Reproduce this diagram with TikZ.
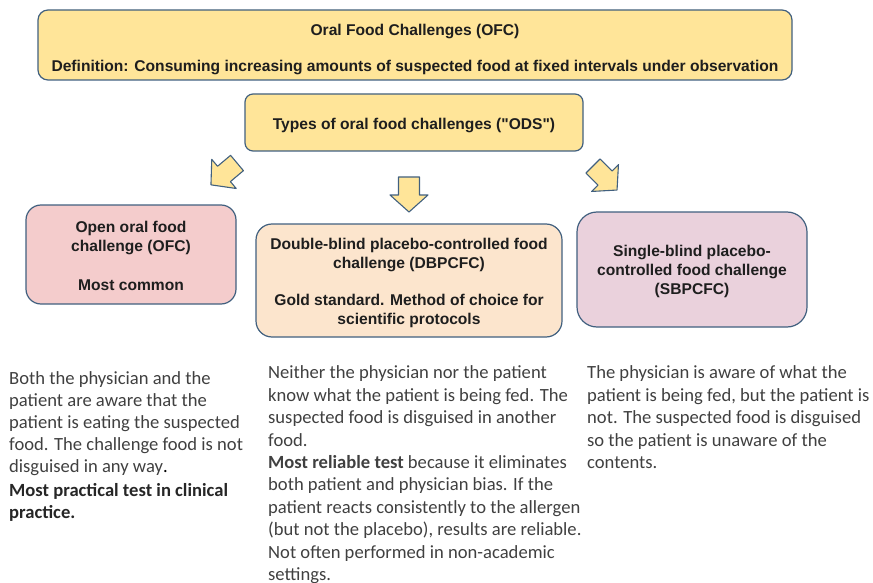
\documentclass[tikz,border=0pt]{standalone}
\usepackage{fontspec}
\setmainfont{Carlito}
\newfontfamily\boxfont{Liberation Sans}
\definecolor{edgeblue}{HTML}{41607F}
\definecolor{ofcyellow}{HTML}{FFE599}
\definecolor{openpink}{HTML}{F4CCCC}
\definecolor{dbpeach}{HTML}{FCE5CD}
\definecolor{sbmauve}{HTML}{EAD1DC}
\definecolor{bodygray}{HTML}{404040}
\definecolor{boxtext}{HTML}{1E1E1E}

\tikzset{
  card/.style={draw=edgeblue, line width=1.2pt, inner sep=0pt},
  cardtext/.style={align=center, inner sep=0pt, text=boxtext,
    font=\boxfont\bfseries\fontsize{15.6}{19}\selectfont},
  % anchored at the baseline of the last line of each note
  notes/.style={anchor=base west, align=left, inner sep=0pt, text=bodygray,
    font=\fontsize{18.6}{22.4}\selectfont},
  blockarrow/.style={draw=edgeblue, fill=ofcyellow, line width=1.1pt, line join=round},
}

\begin{document}
\begin{tikzpicture}[x=1pt, y=-1pt]
\useasboundingbox (0,0) rectangle (873,583);

% header boxes
\node[card, fill=ofcyellow, rounded corners=10pt, minimum width=754pt, minimum height=70pt]
  (ofc) at (415,45) {};
\node[cardtext] (ofc-text) at (415,50)
  {Oral Food Challenges (OFC)\\[17pt]
   Definition: Consuming increasing amounts of suspected food at fixed intervals under observation};
\node[card, fill=ofcyellow, rounded corners=8pt, minimum width=338pt, minimum height=57pt]
  (types) at (414,122.5) {};
\node[cardtext] (types-text) at (414,126) {Types of oral food challenges ("ODS")};

% block arrows towards the three challenge types
\begin{scope}[shift={(237,163)}, rotate=-140]
  \draw[blockarrow] (0,-10) -- (17,-10) -- (17,-19) -- (34,0) -- (17,19) -- (17,10) -- (0,10) -- cycle;
\end{scope}
\begin{scope}[shift={(409,177)}, rotate=-90]
  \draw[blockarrow] (0,-10.5) -- (18,-10.5) -- (18,-19) -- (35,0) -- (18,19) -- (18,10.5) -- (0,10.5) -- cycle;
\end{scope}
\begin{scope}[shift={(593,166)}, rotate=-45]
  \draw[blockarrow] (0,-10) -- (17,-10) -- (17,-19) -- (34,0) -- (17,19) -- (17,10) -- (0,10) -- cycle;
\end{scope}

% the three kinds of challenge
\node[card, fill=openpink, rounded corners=15pt, minimum width=210pt, minimum height=99pt]
  (open) at (131,254.5) {};
\node[cardtext] (open-text) at (131,256)
  {Open oral food\\challenge (OFC)\\[20pt]Most common};
\node[card, fill=dbpeach, rounded corners=16pt, minimum width=306pt, minimum height=113pt]
  (dbpc) at (409,280.5) {};
\node[cardtext] (dbpc-text) at (409,283)
  {Double-blind placebo-controlled food\\challenge (DBPCFC)\\[18pt]
   Gold standard. Method of choice for\\scientific protocols};
\node[card, fill=sbmauve, rounded corners=20pt, minimum width=230pt, minimum height=115pt]
  (sbpc) at (692,269.5) {};
\node[cardtext] (sbpc-text) at (692,271.5)
  {Single-blind placebo-\\controlled food challenge\\(SBPCFC)};

% explanations below each box
\node[notes, font=\fontsize{18.6}{22}\selectfont] (opennote) at (9,518)
  {Both the physician and the\\
   patient are aware that the\\
   patient is eating the suspected\\
   food. The challenge food is not\\
   disguised in any way{\color{black}.}\\[2pt]
   {\color{black!85}\bfseries Most practical test in clinical}\\
   {\color{black!85}\bfseries practice.}};
\node[notes] (dbpcnote) at (268,580.5)
  {Neither the physician nor the patient\\
   know what the patient is being fed. The\\
   suspected food is disguised in another\\
   food.\\
   \textbf{Most reliable test} because it eliminates\\
   both patient and physician bias. If the\\
   patient reacts consistently to the allergen\\
   (but not the placebo), results are reliable.\\
   Not often performed in non-academic\\
   settings.};
\node[notes] (sbpcnote) at (587,468.5)
  {The physician is aware of what the\\
   patient is being fed, but the patient is\\
   not. The suspected food is disguised\\
   so the patient is unaware of the\\
   contents.};
\end{tikzpicture}
\end{document}
